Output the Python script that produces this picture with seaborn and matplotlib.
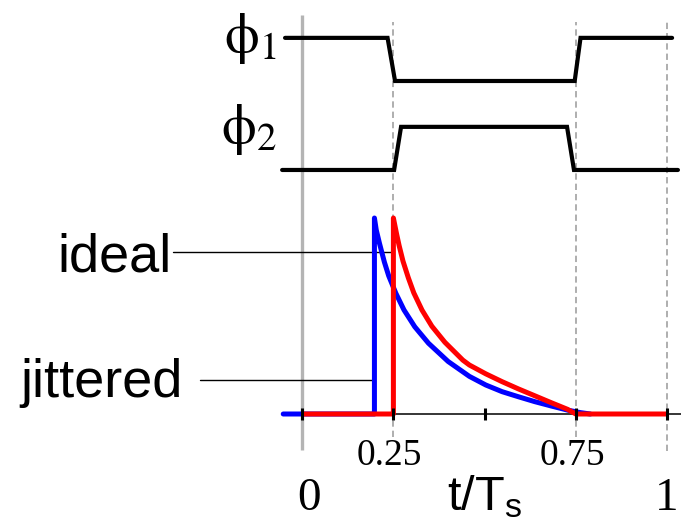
import matplotlib
matplotlib.use("Agg")
import matplotlib.pyplot as plt
import seaborn as sns
import pandas as pd

# ---------------- data ----------------
# clock waveforms (time in t/Ts, logical level 0/1)
phi1_t = [-0.047, 0.234, 0.2545, 0.747, 0.763, 1.014]
phi1_s = [1, 1, 0, 0, 1, 1]
phi2_t = [-0.055, 0.252, 0.271, 0.726, 0.745, 1.030]
phi2_s = [0, 0, 1, 1, 0, 0]

# current pulses (normalised amplitude)
ideal_t = [0.0, 0.25, 0.25, 0.2586, 0.2656, 0.2763, 0.2909, 0.3059, 0.3285,
           0.3554, 0.3911, 0.4403, 0.4583, 0.5032, 0.5479, 0.5927, 0.6376,
           0.6823, 0.7272, 0.75, 1.0]
ideal_v = [0.0, 0.0, 1.0, 0.920, 0.860, 0.780, 0.695, 0.618, 0.530,
           0.448, 0.366, 0.275, 0.250, 0.205, 0.165, 0.128, 0.093,
           0.058, 0.024, 0.0, 0.0]
jit_t = [-0.052, 0.198, 0.198, 0.203, 0.2118, 0.2253, 0.2371, 0.2567, 0.2790,
         0.3086, 0.3462, 0.4000, 0.4583, 0.5032, 0.5479, 0.5927, 0.6376,
         0.6823, 0.7272, 0.7629, 0.7898]
jit_v = [0.0, 0.0, 1.0, 0.939, 0.871, 0.775, 0.705, 0.616, 0.531,
         0.445, 0.361, 0.268, 0.192, 0.148, 0.114, 0.088, 0.063,
         0.041, 0.020, 0.007, 0.0]

tick_vals = [0, 0.25, 0.5, 0.75, 1.0]
small_tick_labels = ["0.25", "0.75"]
big_tick_labels = ["0", "1"]
dashed_vals = [0.25, 0.75, 1.0]

# ---------------- style ----------------
sns.set_theme(style="white")
plt.rcParams["font.family"] = ["Liberation Sans", "DejaVu Sans"]
plt.rcParams["mathtext.fontset"] = "custom"
plt.rcParams["mathtext.rm"] = "Liberation Sans"
plt.rcParams["mathtext.it"] = "Liberation Sans"

fig = plt.figure(figsize=(6.81, 5.23), dpi=100)
ax = fig.add_axes([0, 0, 1, 1])
ax.set_xlim(-0.8284, 1.0384)
ax.set_ylim(-0.5561, 2.1122)

# vertical reference lines
ax.plot([0, 0], [-0.184, 2.036], color="#b4b4b4", lw=2.4, zorder=1, solid_capstyle="butt")
for v in dashed_vals:
    bottom = -0.19 if v == 1.0 else -0.117
    ax.plot([v, v], [bottom, 2.0], color="#a8a8a8", lw=1.3, ls=(0, (3.5, 2.2)), zorder=1)

# clock waveforms
amp = 0.22
df1 = pd.DataFrame({"t": phi1_t, "y": [1.699 + amp * s for s in phi1_s]})
df2 = pd.DataFrame({"t": phi2_t, "y": [1.245 + amp * s for s in phi2_s]})
for d in (df1, df2):
    sns.lineplot(data=d, x="t", y="y", sort=False, estimator=None, ax=ax,
                 color="black", lw=3.0, zorder=3,
                 solid_capstyle="round", solid_joinstyle="miter")

# current pulses
dj = pd.DataFrame({"t": jit_t, "v": jit_v})
di = pd.DataFrame({"t": ideal_t, "v": ideal_v})
sns.lineplot(data=dj, x="t", y="v", sort=False, estimator=None, ax=ax,
             color="#0000ff", lw=3.6, zorder=3, solid_capstyle="round", solid_joinstyle="round")
sns.lineplot(data=di, x="t", y="v", sort=False, estimator=None, ax=ax,
             color="#ff0000", lw=3.6, zorder=4, solid_capstyle="butt", solid_joinstyle="round")

# axis (spine below the curves, ticks above)
for s in ["top", "right", "left"]:
    ax.spines[s].set_visible(False)
ax.spines["bottom"].set_position(("data", 0))
ax.spines["bottom"].set_bounds(0, 1.0384)
ax.spines["bottom"].set_color("black")
ax.spines["bottom"].set_linewidth(1.1)
ax.spines["bottom"].set_zorder(2)
ax.xaxis.set_zorder(5)
ax.set_xticks(tick_vals)
ax.set_xticklabels([""] * len(tick_vals))
ax.tick_params(axis="x", direction="inout", length=8, width=2.2, color="black", bottom=True)
ax.set_yticks([])
ax.set_xlabel("")
ax.set_ylabel("")
ax.grid(False)

# tick labels
for v, lab in zip([0.25, 0.75], small_tick_labels):
    ax.text(v - 0.01, -0.26, lab, ha="center", va="baseline",
            fontsize=27, family="Liberation Serif", color="black")
for v, lab in zip([0.02, 1.0], big_tick_labels):
    ax.text(v, -0.49, lab, ha="center", va="baseline",
            fontsize=34, family="Liberation Serif", color="black")
ax.text(0.5, -0.49, r"$\mathrm{t/T_s}$", ha="center", va="baseline",
        fontsize=35, color="black")

# phase labels
ax.text(-0.069, 1.918, r"$\mathrm{\phi}_\mathrm{1}$", ha="right", va="center", fontsize=40,
        math_fontfamily="stix", color="black")
ax.text(-0.069, 1.454, r"$\mathrm{\phi}_\mathrm{2}$", ha="right", va="center", fontsize=40,
        math_fontfamily="stix", color="black")

# pulse labels with leader lines
ax.text(-0.358, 0.726, "ideal", ha="right", va="baseline", fontsize=39, color="black")
ax.plot([-0.354, 0.25], [0.828, 0.828], color="black", lw=1.0, zorder=2)
ax.text(-0.327, 0.087, "jittered", ha="right", va="baseline", fontsize=39, color="black")
ax.plot([-0.280, 0.198], [0.173, 0.173], color="black", lw=1.0, zorder=2)

fig.savefig("out.png", dpi=100)
